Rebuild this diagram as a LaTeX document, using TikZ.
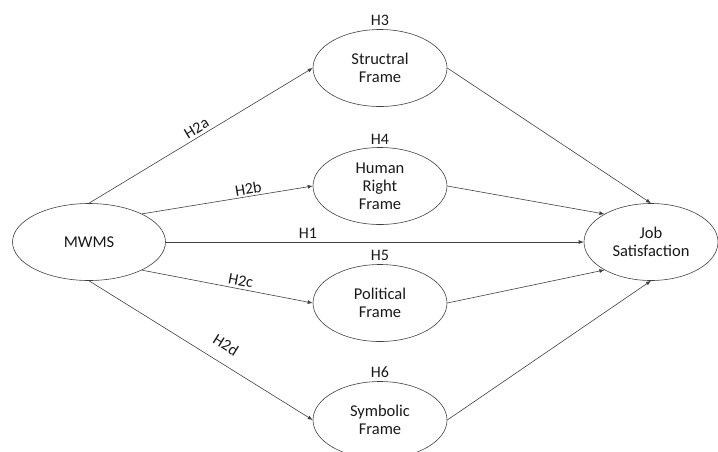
\documentclass[tikz,border=0pt]{standalone}
\usepackage{fontspec}
\setmainfont{Carlito}
\usetikzlibrary{shapes.geometric, arrows.meta, positioning}

\tikzset{
  construct/.style={ellipse, draw=black!75, line width=0.6pt, minimum width=134pt, minimum height=77pt, inner sep=0pt, align=center, text=black!90},
  link/.style={draw=black!75, line width=0.6pt, -{Latex[length=5pt, width=4pt]}},
  hyp/.style={text=black!90, inner sep=3pt, font=\fontsize{16}{18}\selectfont},
}

\begin{document}
\begin{tikzpicture}[x=1pt, y=1pt, font=\fontsize{16.5}{18}\selectfont]
    \useasboundingbox (0,0) rectangle (718,-451);
    % constructs
    \node[construct, minimum width=153pt] (mwms) at (89,-242) {MWMS};
    \node[construct] (struct) at (380,-68) {Structral\\Frame};
    \node[construct] (human) at (380,-186) {Human\\Right\\Frame};
    \node[construct] (polit) at (380,-303) {Political\\Frame};
    \node[construct] (symb) at (380,-420) {Symbolic\\Frame};
    \node[construct] (job) at (651,-242) {Job\\Satisfaction};
    % hypothesis labels of the frames
    \node[hyp, above=0pt of struct] (h3) {H3};
    \node[hyp, above=0pt of human] (h4) {H4};
    \node[hyp, above=0pt of polit] (h5) {H5};
    \node[hyp, above=0pt of symb] (h6) {H6};
    % MWMS to frames
    \draw[link] (mwms.north) -- node[hyp, sloped, above, pos=0.5] (h2a) {H2a} (struct.west);
    \draw[link] (mwms.28) -- node[hyp, sloped, above, inner sep=1.5pt, pos=0.63] (h2b) {H2b} (human.west);
    \draw[link] (mwms.east) -- node[hyp, above, pos=0.34] (h1) {H1} (job.west);
    \draw[link] (mwms.-28) -- node[hyp, sloped, above, pos=0.57] (h2c) {H2c} (polit.west);
    \draw[link] (mwms.south) -- node[hyp, sloped, above, inner sep=12pt, pos=0.57] (h2d) {H2d} (symb.west);
    % frames to job satisfaction
    \draw[link] (struct.east) -- (job.north);
    \draw[link] (human.east) -- (job.149);
    \draw[link] (polit.east) -- (job.211);
    \draw[link] (symb.east) -- (job.south);
\end{tikzpicture}
\end{document}
